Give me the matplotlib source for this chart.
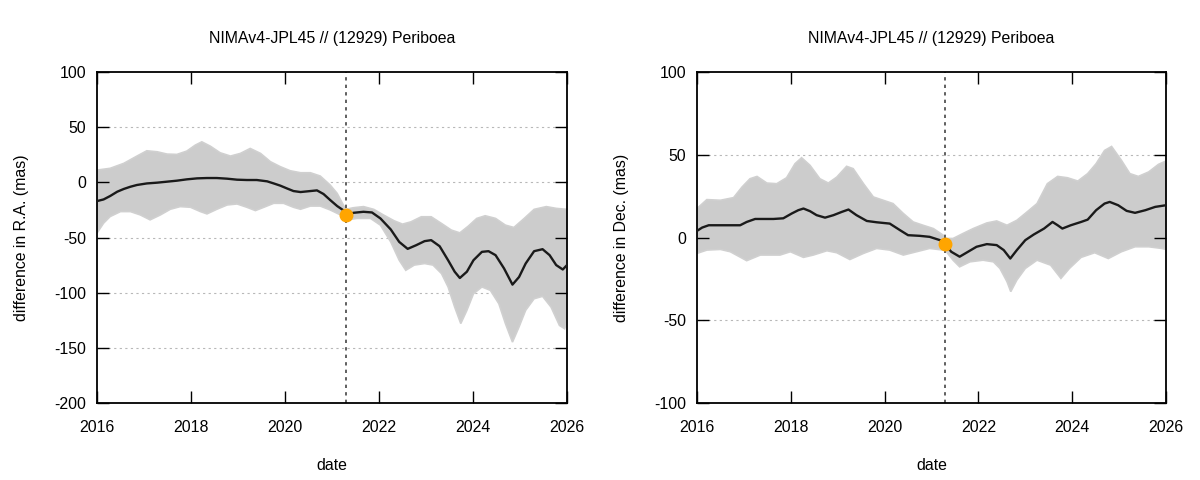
import matplotlib
matplotlib.use("Agg")
import matplotlib.pyplot as plt

plt.rcParams['font.family'] = ['Liberation Sans', 'DejaVu Sans']
plt.rcParams['axes.unicode_minus'] = False

title = "NIMAv4-JPL45 // (12929) Periboea"
epoch_year = 2021.29
ra_epoch_val = -29.5
dec_epoch_val = -4.0

# ---- R.A. panel ----
ra_x = [2016.0, 2016.14, 2016.28, 2016.43, 2016.57, 2016.71, 2016.85, 2017.06, 2017.28, 2017.49,
        2017.70, 2017.91, 2018.13, 2018.34, 2018.55, 2018.77, 2018.98, 2019.19, 2019.40, 2019.62,
        2019.76, 2019.90, 2020.04, 2020.18, 2020.33, 2020.47, 2020.68, 2020.82, 2020.96, 2021.11,
        2021.25, 2021.29, 2021.46, 2021.67, 2021.85, 2022.03, 2022.25, 2022.43, 2022.61, 2022.79,
        2022.97, 2023.11, 2023.29, 2023.47, 2023.61, 2023.72, 2023.87, 2024.01, 2024.19, 2024.33,
        2024.48, 2024.66, 2024.84, 2024.98, 2025.12, 2025.30, 2025.48, 2025.63, 2025.77, 2025.91,
        2026.0]
ra_y = [-17, -15.5, -12.4, -8.5, -6, -4, -2.4, -1, -0.3, 0.6,
        1.5, 2.7, 3.6, 3.9, 3.9, 3.3, 2.4, 2.1, 2.1, 0.9,
        -1, -3, -5.5, -7.9, -8.8, -8.2, -7.3, -10.6, -16, -21.5,
        -25.6, -29.5, -27.6, -26.7, -27.3, -32.7, -42.7, -54, -60.3, -57,
        -53.3, -52.4, -57.9, -70.6, -81, -86.7, -81, -70.6, -63, -62.4,
        -66, -78, -92.7, -85.8, -73.6, -62.4, -60.6, -66, -75, -79,
        -75]

ra_up_x = [2016.0, 2016.28, 2016.57, 2016.85, 2017.06, 2017.28, 2017.49, 2017.70, 2017.91, 2018.09,
           2018.23, 2018.41, 2018.62, 2018.84, 2019.05, 2019.26, 2019.48, 2019.69, 2019.90, 2020.11,
           2020.33, 2020.54, 2020.75, 2020.96, 2021.11, 2021.29, 2021.46, 2021.67, 2021.89, 2022.10,
           2022.32, 2022.50, 2022.68, 2022.90, 2023.11, 2023.33, 2023.54, 2023.72, 2023.90, 2024.08,
           2024.26, 2024.48, 2024.69, 2024.87, 2025.09, 2025.30, 2025.56, 2025.77, 2026.0]
ra_up_y = [11.1, 12.7, 17.2, 23.8, 28.6, 27.7, 25.6, 25.3, 28.3, 33.7,
           36.7, 32.8, 26.8, 23.8, 26.2, 30.7, 26.2, 18.7, 14.2, 10.5,
           8.7, 8.7, 5.7, -2.4, -10, -24.5, -23, -22, -24.5, -29.7,
           -34.8, -37.9, -35.8, -31.2, -31.2, -37.3, -43.3, -45.8, -39.7, -32.7,
           -30.3, -32.7, -38.8, -40.9, -32.7, -24.5, -22, -23.6, -24.5]

ra_lo_x = [2016.0, 2016.14, 2016.28, 2016.50, 2016.71, 2016.92, 2017.13, 2017.35, 2017.56, 2017.77,
           2017.99, 2018.20, 2018.34, 2018.55, 2018.77, 2018.98, 2019.19, 2019.37, 2019.55, 2019.76,
           2019.97, 2020.18, 2020.33, 2020.54, 2020.75, 2020.96, 2021.18, 2021.29, 2021.53, 2021.82,
           2022.03, 2022.25, 2022.43, 2022.57, 2022.75, 2022.97, 2023.15, 2023.33, 2023.47, 2023.61,
           2023.74, 2023.87, 2024.01, 2024.19, 2024.37, 2024.55, 2024.69, 2024.84, 2024.98, 2025.12,
           2025.30, 2025.48, 2025.66, 2025.84, 2025.95, 2026.0]
ra_lo_y = [-46, -37, -31, -26.5, -26.5, -29.5, -34, -29.5, -24.4, -22,
           -22.6, -26.5, -28.6, -24.4, -20.5, -19.6, -22.6, -25.6, -22.6, -19,
           -19, -22.6, -24.4, -21.5, -21.5, -25, -29.5, -34.2, -32.7, -32.7,
           -38.8, -54, -70.6, -79.7, -75, -73.6, -75, -82.7, -94.8, -113,
           -128, -116, -101, -94.8, -97.9, -110, -128, -144.8, -131, -116,
           -105.5, -103.3, -113, -129.7, -132.7, -126]

# ---- Dec. panel ----
de_x = [2016.0, 2016.11, 2016.25, 2016.50, 2016.71, 2016.92, 2017.06, 2017.24, 2017.42, 2017.63,
        2017.84, 2018.02, 2018.16, 2018.27, 2018.41, 2018.55, 2018.73, 2018.91, 2019.09, 2019.23,
        2019.40, 2019.62, 2019.83, 2020.11, 2020.33, 2020.50, 2020.75, 2020.96, 2021.18, 2021.29,
        2021.42, 2021.60, 2021.78, 2021.96, 2022.18, 2022.39, 2022.54, 2022.68, 2022.82, 2023.0,
        2023.18, 2023.40, 2023.58, 2023.69, 2023.79, 2023.97, 2024.19, 2024.33, 2024.51, 2024.69,
        2024.80, 2024.98, 2025.16, 2025.34, 2025.56, 2025.77, 2026.0]
de_y = [4, 6, 7.4, 7.4, 7.4, 7.4, 9.4, 11.2, 11.2, 11.2,
        11.6, 14.5, 16.5, 17.5, 15.9, 13.5, 12, 13.5, 15.5, 16.9,
        13.5, 10, 9.2, 8.4, 4.4, 1.4, 1, 0.4, -1.6, -4,
        -8.6, -11.6, -8.6, -5.6, -4, -4.6, -7.6, -12.7, -7.6, -1.6,
        1.8, 5.4, 9.4, 7.4, 5.4, 7.4, 9.4, 10.8, 16.5, 20.5,
        21.5, 19.5, 16.1, 14.9, 16.5, 18.5, 19.5]

de_up_x = [2016.0, 2016.21, 2016.50, 2016.78, 2016.96, 2017.13, 2017.28, 2017.49, 2017.70, 2017.91,
           2018.09, 2018.23, 2018.41, 2018.62, 2018.80, 2018.98, 2019.19, 2019.33, 2019.55, 2019.76,
           2019.97, 2020.18, 2020.40, 2020.61, 2020.82, 2021.04, 2021.25, 2021.29, 2021.46, 2021.67,
           2021.89, 2022.18, 2022.39, 2022.61, 2022.82, 2023.04, 2023.25, 2023.47, 2023.69, 2023.90,
           2024.12, 2024.33, 2024.51, 2024.69, 2024.84, 2025.05, 2025.23, 2025.41, 2025.63, 2025.84,
           2026.0]
de_up_y = [17.5, 22.9, 22.5, 24.1, 30.5, 35.5, 36.9, 32.9, 32.5, 36.1,
           44.6, 48.2, 43.6, 35.5, 32.9, 36.5, 43, 41.6, 32.5, 24.5,
           22.5, 20.5, 14.5, 9.4, 7.4, 5.4, 1.4, -0.6, -0.6, 2.4,
           5.4, 8.8, 10, 7.4, 10.4, 15.5, 20.5, 32.5, 36.9, 36.1,
           34.1, 38.6, 44.6, 52.6, 55, 46.6, 38.6, 36.9, 39.6, 44.2,
           46.2]

de_lo_x = [2016.0, 2016.21, 2016.50, 2016.71, 2017.06, 2017.35, 2017.56, 2017.77, 2017.99, 2018.27,
           2018.48, 2018.77, 2018.98, 2019.26, 2019.55, 2019.83, 2020.11, 2020.40, 2020.68, 2020.96,
           2021.25, 2021.29, 2021.46, 2021.60, 2021.82, 2022.10, 2022.32, 2022.46, 2022.61, 2022.69,
           2022.82, 2023.0, 2023.25, 2023.54, 2023.76, 2023.94, 2024.19, 2024.48, 2024.77, 2025.05,
           2025.34, 2025.63, 2025.91, 2026.0]
de_lo_y = [-9.6, -7.6, -7.2, -8.6, -14, -10.6, -10.6, -10.6, -8.6, -12,
           -10.6, -8, -9.2, -13.3, -9.6, -6.6, -7.6, -10.6, -8.6, -6.6,
           -7.6, -7.6, -13.7, -17.7, -14.7, -13.7, -14.7, -18.7, -26.7, -32.7,
           -25.7, -18.7, -13.7, -16.7, -24.7, -18.7, -12, -9.2, -12.7, -8.6,
           -5.6, -5.6, -6.6, -7.2]

x_ticks = [2016, 2018, 2020, 2022, 2024, 2026]
ra_ticks = [-200, -150, -100, -50, 0, 50, 100]
de_ticks = [-100, -50, 0, 50, 100]

FS = 11.4

fig = plt.figure(figsize=(12, 4.8), dpi=100)
ax1 = fig.add_axes([97/1200, 1 - 403/480, 470/1200, 331/480])
ax2 = fig.add_axes([697/1200, 1 - 403/480, 469/1200, 331/480])


def draw(ax, cx, cy, ux, uy, lx, ly, ev, ylim, yticks, ylabel):
    px = list(ux) + list(lx)[::-1]
    py = list(uy) + list(ly)[::-1]
    ax.fill(px, py, facecolor='#cccccc', edgecolor='#d0d0d0', lw=1.2, zorder=1)
    for t in yticks[1:-1]:
        ax.axhline(t, color='#b8b8b8', lw=0.8, ls=(0, (2, 3)), zorder=0.5)
    ax.axvline(epoch_year, color='#444444', lw=1.2, ls=(0, (2, 2.5)), zorder=2)
    ax.plot(cx, cy, color='#1a1a1a', lw=1.7, zorder=3, solid_joinstyle='round')
    ax.plot([epoch_year], [ev], 'o', color='#ffa500', ms=9, zorder=4)
    ax.set_xlim(2016, 2026)
    ax.set_ylim(*ylim)
    ax.set_xticks(x_ticks)
    ax.set_yticks(yticks)
    ax.tick_params(direction='in', length=8.5, width=1.0, top=True, right=True,
                   labelsize=FS, pad=8, colors='black')
    ax.tick_params(axis='x', pad=12)
    for s in ax.spines.values():
        s.set_linewidth(1.3)
    ax.set_title(title, fontsize=FS, pad=21)
    ax.set_xlabel('date', fontsize=FS, labelpad=17)
    ax.set_ylabel(ylabel, fontsize=FS, labelpad=18)


draw(ax1, ra_x, ra_y, ra_up_x, ra_up_y, ra_lo_x, ra_lo_y, ra_epoch_val,
     (-200, 100), ra_ticks, 'difference in R.A. (mas)')
draw(ax2, de_x, de_y, de_up_x, de_up_y, de_lo_x, de_lo_y, dec_epoch_val,
     (-100, 100), de_ticks, 'difference in Dec. (mas)')

fig.savefig('out.png', dpi=100)
